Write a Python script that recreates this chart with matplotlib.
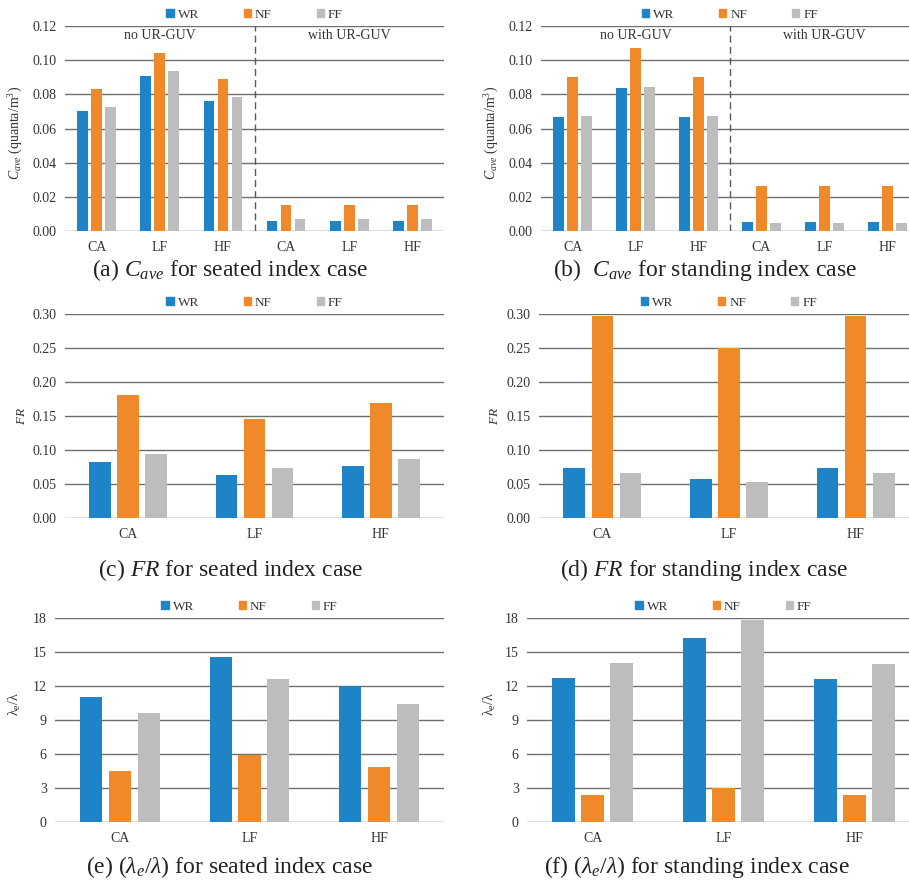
import matplotlib
matplotlib.use("Agg")
import matplotlib.pyplot as plt
from matplotlib.patches import Patch
from matplotlib.ticker import FormatStrFormatter
import numpy as np

plt.rcParams["font.family"] = ["Liberation Serif", "DejaVu Serif"]
plt.rcParams["mathtext.fontset"] = "custom"
plt.rcParams["mathtext.rm"] = "Liberation Serif"
plt.rcParams["mathtext.it"] = "Liberation Serif:italic"

series = ["WR", "NF", "FF"]
colors = ["#1f83c8", "#f0892a", "#bdbdbd"]

# Cave (quanta/m3), no UR-GUV then with UR-GUV
cave_cats = ["CA", "LF", "HF", "CA", "LF", "HF"]
cave_seated = {
    "WR": [0.070, 0.091, 0.076, 0.0058, 0.0058, 0.0058],
    "NF": [0.083, 0.104, 0.0887, 0.015, 0.015, 0.015],
    "FF": [0.0727, 0.0937, 0.0785, 0.0068, 0.0068, 0.0068],
}
cave_standing = {
    "WR": [0.0667, 0.0839, 0.0667, 0.0051, 0.0051, 0.0051],
    "NF": [0.090, 0.1073, 0.090, 0.0265, 0.0265, 0.0265],
    "FF": [0.0671, 0.0845, 0.0671, 0.0045, 0.0045, 0.0045],
}

# FR
fr_cats = ["CA", "LF", "HF"]
fr_seated = {
    "WR": [0.0825, 0.0638, 0.0766],
    "NF": [0.1807, 0.1453, 0.1689],
    "FF": [0.0938, 0.0731, 0.0869],
}
fr_standing = {
    "WR": [0.0729, 0.0578, 0.0729],
    "NF": [0.2971, 0.2496, 0.2971],
    "FF": [0.0666, 0.0529, 0.0666],
}

# lambda_e / lambda
lam_cats = ["CA", "LF", "HF"]
lam_seated = {
    "WR": [11.06, 14.56, 12.0],
    "NF": [4.5, 5.91, 4.85],
    "FF": [9.62, 12.59, 10.44],
}
lam_standing = {
    "WR": [12.71, 16.24, 12.62],
    "NF": [2.38, 3.0, 2.38],
    "FF": [14.0, 17.85, 13.94],
}

W, H = 909, 882
fig = plt.figure(figsize=(W / 100, H / 100), dpi=100)


def px_axes(left, right, top, bottom):
    return fig.add_axes([left / W, 1 - bottom / H, (right - left) / W, (bottom - top) / H])


def bars(ax, cats, data, ymax, step, fmt, ylabel, label_x, label_y=0.5, label_size=10):
    x = np.arange(len(cats))
    for i, s in enumerate(series):
        ax.bar(x + (i - 1) * 0.222, data[s], 0.17, color=colors[i], zorder=2)
    ax.set_xlim(-0.5, len(cats) - 0.5)
    ax.set_ylim(0, ymax)
    ax.set_yticks(np.arange(0, ymax + step / 2, step))
    ax.yaxis.set_major_formatter(FormatStrFormatter(fmt))
    ax.set_xticks(x)
    ax.set_xticklabels(cats)
    ax.tick_params(length=0, labelsize=10, colors="#333333")
    ax.tick_params(axis="x", pad=7)
    ax.tick_params(axis="y", pad=6)
    for sp in ax.spines.values():
        sp.set_visible(False)
    ax.yaxis.grid(True, color="#6e6e6e", lw=1.0, zorder=0)
    ax.set_axisbelow(True)
    ax.set_ylabel(ylabel, fontsize=label_size, color="#333333")
    ax.yaxis.set_label_coords(label_x, label_y)
    handles = [Patch(color=c, label=s) for s, c in zip(series, colors)]
    ax.legend(handles=handles, ncol=3, loc="lower center", bbox_to_anchor=(0.5, 1.0),
              frameon=False, fontsize=9.5, handlelength=0.55, handleheight=0.55,
              handletextpad=0.3, columnspacing=3.4, borderaxespad=0.0,
              labelcolor="#333333")


cave_label = "$C_{ave}$ (quanta/m$^3$)"
ax_a = px_axes(65, 444, 26, 231)
bars(ax_a, cave_cats, cave_seated, 0.12, 0.02, "%.2f", cave_label, -0.106, 0.48)
ax_b = px_axes(541, 919, 26, 231)
bars(ax_b, cave_cats, cave_standing, 0.12, 0.02, "%.2f", cave_label, -0.106, 0.48)
for ax in (ax_a, ax_b):
    ax.axvline(2.5, color="#595959", lw=1.0, ls=(0, (5, 3)), zorder=3)
    ax.text(1, 0.1145, "no UR-GUV", ha="center", va="center", fontsize=10, color="#333333")
    ax.text(4, 0.1145, "with UR-GUV", ha="center", va="center", fontsize=10, color="#333333")

ax_c = px_axes(65, 444, 314, 518)
bars(ax_c, fr_cats, fr_seated, 0.30, 0.05, "%.2f", "$FR$", -0.098, 0.5, 9.5)
ax_d = px_axes(539, 919, 314, 518)
bars(ax_d, fr_cats, fr_standing, 0.30, 0.05, "%.2f", "$FR$", -0.100, 0.5, 9.5)

lam_label = "λ$_{\\mathrm{e}}$/λ"
ax_e = px_axes(55, 444, 618, 822)
bars(ax_e, lam_cats, lam_seated, 18, 3, "%d", lam_label, -0.082, 0.58)
ax_f = px_axes(527, 920, 618, 822)
bars(ax_f, lam_cats, lam_standing, 18, 3, "%d", lam_label, -0.074, 0.58)

captions = [
    (230, 270, "(a) $C_{ave}$ for seated index case"),
    (705, 270, "(b)  $C_{ave}$ for standing index case"),
    (231, 570, "(c) $FR$ for seated index case"),
    (704, 570, "(d) $FR$ for standing index case"),
    (230, 867, "(e) ($\\lambda_e/\\lambda$) for seated index case"),
    (697, 867, "(f) ($\\lambda_e/\\lambda$) for standing index case"),
]
for cx, cy, t in captions:
    fig.text(cx / W, 1 - cy / H, t, ha="center", va="center", fontsize=17, color="#222222")

fig.savefig("out.png", dpi=100)
